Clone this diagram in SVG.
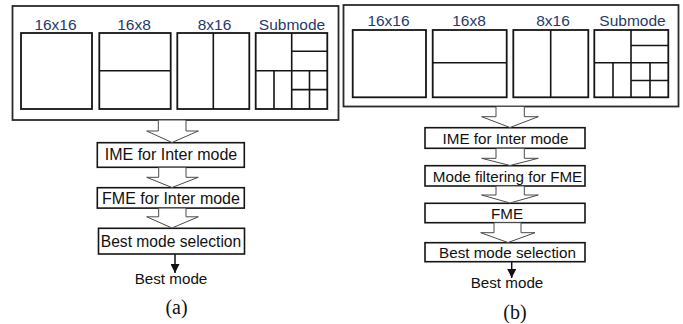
<svg xmlns="http://www.w3.org/2000/svg" width="683" height="324" viewBox="0 0 683 324">
  <style>
    .frame { fill: #ffffff; stroke: #2a2a2a; stroke-width: 1.8; }
    .part { fill: #ffffff; stroke: #151515; stroke-width: 1.8; }
    .split { fill: none; stroke: #151515; stroke-width: 1.6; }
    .lbl { font-family: "Liberation Sans", Arial, sans-serif; font-size: 15.5px; fill: #1f3a6b; text-anchor: middle; }
    .step { fill: #ffffff; stroke: #151515; stroke-width: 1.6; }
    .txt { font-family: "Liberation Sans", Arial, sans-serif; fill: #111111; text-anchor: middle; }
    .cap { font-family: "Liberation Serif", "Times New Roman", serif; font-size: 20px; fill: #111111; text-anchor: middle; }
    .hollow { fill: #ffffff; stroke: #4a4a4a; stroke-width: 1; }
    .wire { fill: none; stroke: #111111; stroke-width: 1.5; }
  </style>
  <defs>
    <marker id="tip" viewBox="0 0 10 10" refX="10" refY="5" markerWidth="9" markerHeight="9" markerUnits="userSpaceOnUse" orient="auto" preserveAspectRatio="none">
      <path d="M0,0 L10,5 L0,10 Z" fill="#111111"/>
    </marker>
  </defs>

  <rect width="683" height="324" fill="#ffffff"/>

  <!-- (a) partition modes -->
  <g id="a-modes">
    <rect class="frame" x="12.5" y="6" width="326" height="114"/>
    <text class="lbl" x="55.5" y="29.5">16x16</text>
    <text class="lbl" x="134" y="29.5">16x8</text>
    <text class="lbl" x="214.5" y="29.5">8x16</text>
    <text class="lbl" x="292" y="29.5">Submode</text>
    <rect class="part" x="21" y="33" width="71" height="76"/>
    <rect class="part" x="99.3" y="33" width="71.4" height="76"/>
    <path class="split" d="M99.3,70.8 H170.7"/>
    <rect class="part" x="177.3" y="33" width="72" height="76"/>
    <path class="split" d="M213.3,33 V109"/>
    <rect class="part" x="255.7" y="33" width="71.6" height="76"/>
    <path class="split" d="M255.7,70.8 H327.3 M291.7,33 V109 M291.7,51.2 H327.3 M274,70.8 V109 M309.5,70.8 V109 M291.7,89.6 H327.3"/>
  </g>

  <!-- (a) flow steps -->
  <g id="a-ime">
    <rect class="step" x="97.3" y="142.7" width="147" height="24.6"/>
    <text class="txt" x="171" y="160" font-size="16">IME for Inter mode</text>
  </g>
  <g id="a-fme">
    <rect class="step" x="97.3" y="187.7" width="147" height="20.4"/>
    <text class="txt" x="171" y="203.5" font-size="16">FME for Inter mode</text>
  </g>
  <g id="a-select">
    <rect class="step" x="98.5" y="228.3" width="146" height="25.7"/>
    <text class="txt" x="171" y="246.5" font-size="15.6">Best mode selection</text>
  </g>
  <g id="a-result">
    <text class="txt" x="171" y="283.5" font-size="15.2">Best mode</text>
  </g>
  <text class="cap" x="176.5" y="314">(a)</text>

  <!-- (b) partition modes -->
  <g id="b-modes">
    <rect class="frame" x="343.5" y="5" width="335" height="101.5"/>
    <text class="lbl" x="388.5" y="26">16x16</text>
    <text class="lbl" x="469" y="26">16x8</text>
    <text class="lbl" x="553" y="26">8x16</text>
    <text class="lbl" x="632.5" y="26">Submode</text>
    <rect class="part" x="352.7" y="30" width="73.3" height="67.3"/>
    <rect class="part" x="432.7" y="30" width="74" height="67.3"/>
    <path class="split" d="M432.7,62.7 H506.7"/>
    <rect class="part" x="513.3" y="30" width="75" height="67.3"/>
    <path class="split" d="M550.7,30 V97.3"/>
    <rect class="part" x="594.3" y="30" width="74" height="67.3"/>
    <path class="split" d="M594.3,62.7 H668.3 M631,30 V97.3 M631,45.5 H668.3 M613,62.7 V97.3 M650,62.7 V97.3 M631,80.5 H668.3"/>
  </g>

  <!-- (b) flow steps -->
  <g id="b-ime">
    <rect class="step" x="425" y="127.7" width="160" height="20.6"/>
    <text class="txt" x="505.5" y="143.5" font-size="15.2">IME for Inter mode</text>
  </g>
  <g id="b-filter">
    <rect class="step" x="425" y="165.7" width="160" height="20.3"/>
    <text class="txt" x="507.5" y="181.5" font-size="15.2">Mode filtering for FME</text>
  </g>
  <g id="b-fme">
    <rect class="step" x="425" y="203.3" width="160" height="19.4"/>
    <text class="txt" x="507" y="218.5" font-size="15.2">FME</text>
  </g>
  <g id="b-select">
    <rect class="step" x="425" y="242.7" width="160" height="19"/>
    <text class="txt" x="507.5" y="257.5" font-size="15.2">Best mode selection</text>
  </g>
  <g id="b-result">
    <text class="txt" x="507" y="288" font-size="15.2">Best mode</text>
  </g>
  <text class="cap" x="515" y="319">(b)</text>

  <!-- connectors -->
  <g id="connectors">
    <polygon class="hollow" points="158.3,120 186,120 186,131 198.3,131 172,142.5 146.7,131 158.3,131"/>
    <polygon class="hollow" points="158.7,167.3 186,167.3 186,177.3 198.3,177.3 172,187.5 146.7,177.3 158.7,177.3"/>
    <polygon class="hollow" points="158.7,208.1 186,208.1 186,216.8 198.3,216.8 172,228 146.7,216.8 158.7,216.8"/>
    <path class="wire" d="M175,254 V273" marker-end="url(#tip)"/>

    <polygon class="hollow" points="496,106.5 524.3,106.5 524.3,116.7 538.3,116.7 510,127.5 481.7,116.7 496,116.7"/>
    <polygon class="hollow" points="496,148.3 524.3,148.3 524.3,158.3 538.3,158.3 510,165.5 481.7,158.3 496,158.3"/>
    <polygon class="hollow" points="496,186 524.3,186 524.3,195 538.3,195 510,203 481.7,195 496,195"/>
    <polygon class="hollow" points="494,222.7 521,222.7 521,232.7 535,232.7 508,242.5 480.7,232.7 494,232.7"/>
    <path class="wire" d="M511.7,261.7 V278" marker-end="url(#tip)"/>
  </g>
</svg>
